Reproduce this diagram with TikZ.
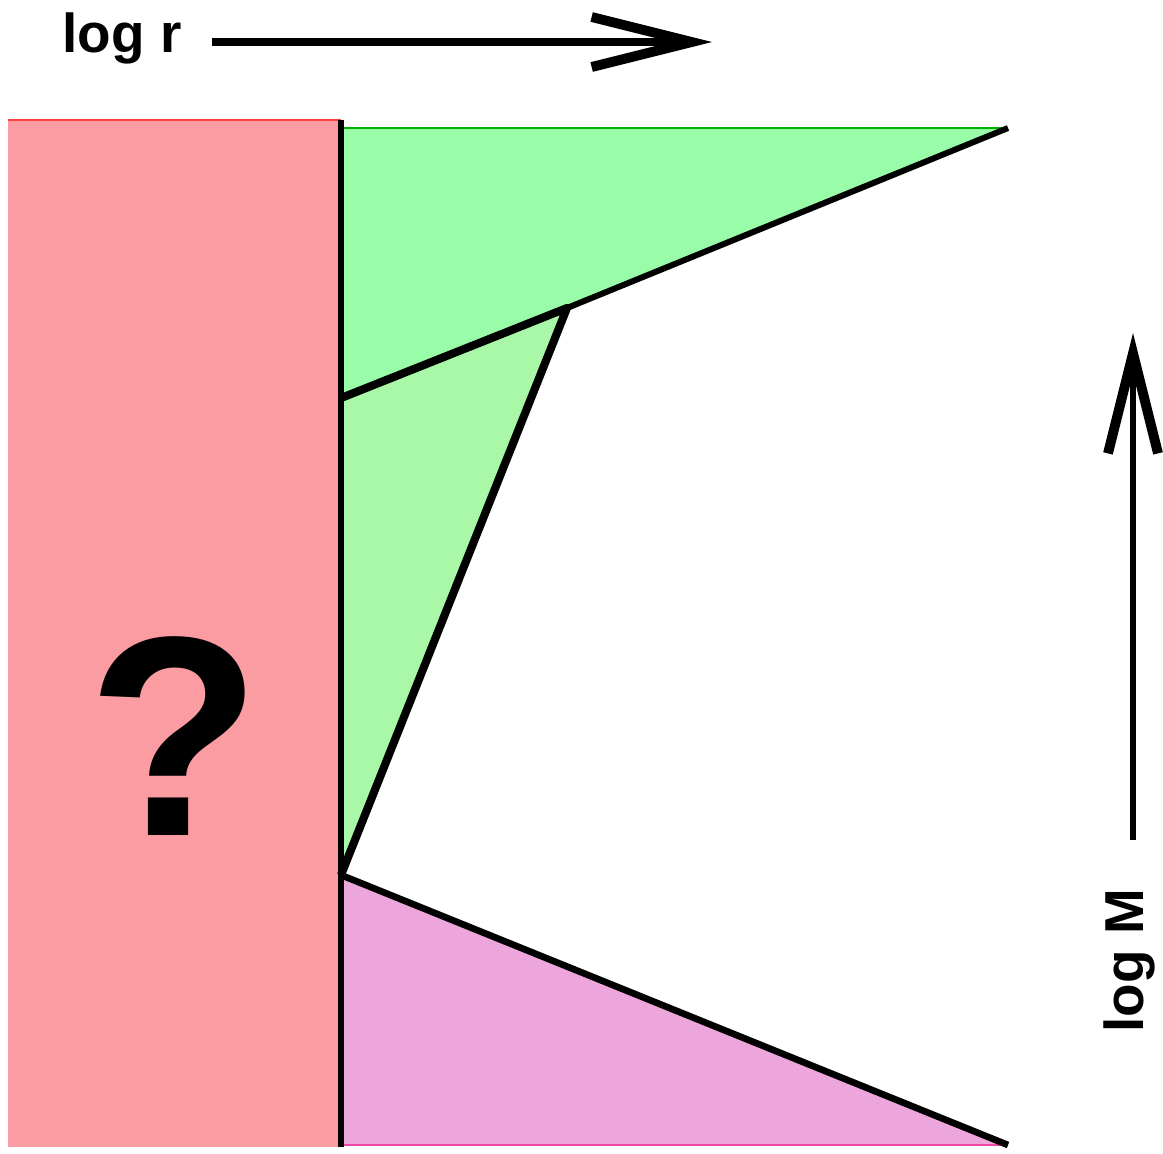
\documentclass[tikz,border=0pt]{standalone}
\usepackage{fontspec}
\setmainfont{Liberation Sans}
\usetikzlibrary{arrows.meta}
\definecolor{corered}{RGB}{250,156,162}
\definecolor{upgreen}{RGB}{152,252,168}
\definecolor{midgreen}{RGB}{168,248,168}
\definecolor{lowpink}{RGB}{236,166,220}

\begin{document}
\begin{tikzpicture}[x=0.01cm, y=-0.01cm,
  arr/.style={-{Straight Barb[length=10mm, width=5mm, line width=2.8pt]}, line width=2.1pt},
  edge/.style={line width=1.7pt, line join=round},
  lab/.style={font=\fontsize{15.6}{18}\selectfont\bfseries, inner sep=0pt}]
\useasboundingbox (0,0) rectangle (1163,1153);
% corners of the regions
\coordinate (A) at (341,120);
\coordinate (B) at (341,1147);
\coordinate (T) at (1008,128);
\coordinate (K) at (567,308);
\coordinate (P) at (341,398);
\coordinate (Q) at (341,875);
\coordinate (E) at (1008,1145);
% unknown core
\fill[corered] (8,120) rectangle (A |- B);
\draw[red!60!corered, line width=0.6pt] (8,120) -- (A);
\node[font=\fontsize{81}{84}\selectfont\bfseries, inner sep=0pt, anchor=base] (qm) at (174,835) {?};
% upper green wedge
\fill[upgreen] (341,128) -- (T) -- (K) -- (P) -- cycle;
\draw[green!70!black, line width=0.6pt] (341,128) -- (T);
% lower green wedge
\fill[midgreen] (P) -- (K) -- (Q) -- cycle;
% pink wedge
\fill[lowpink] (Q) -- (E) -- (341,1145) -- cycle;
\draw[magenta!60!lowpink, line width=0.6pt] (341,1145) -- (E);
% boundaries
\draw[edge] (K) -- (T);
\draw[edge, line width=2.3pt] (P) -- (K) -- (Q);
\draw[edge, line width=1.9pt] (Q) -- (E);
\draw[line width=1.5pt] (A) -- (B);
% axes
\node[lab, anchor=base west] (logr) at (62,52) {log r};
\coordinate (rtail) at (212,42);
\coordinate (rtip) at (712,42);
\draw[arr] (rtail) -- (rtip);
\node[lab, rotate=90, anchor=base west] (logM) at (1143,1033) {log M};
\coordinate (mtail) at (1133,840);
\coordinate (mtip) at (1133,333);
\draw[arr, line width=1.9pt] (mtail) -- (mtip);
\end{tikzpicture}
\end{document}
